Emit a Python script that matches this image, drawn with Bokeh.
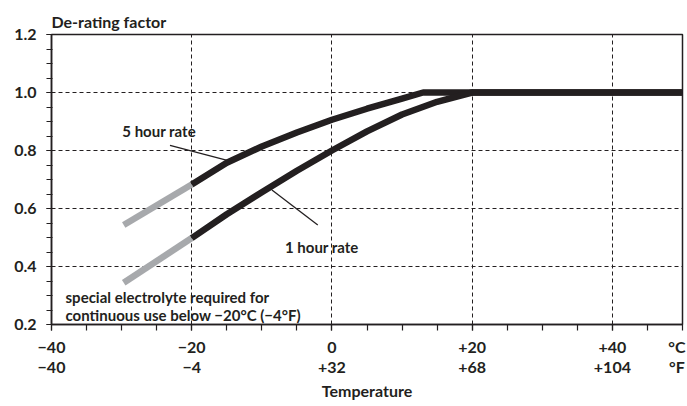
from bokeh.plotting import figure
from bokeh.models import LinearAxis, FixedTicker, Label, Range1d, PrintfTickFormatter
from bokeh.core.properties import value
from bokeh.embed import file_html
from bokeh.resources import INLINE

# ---- data ----
temp_ticks_c = [-40, -20, 0, 20, 40]
labels_c = ["\u221240", "\u221220", "0", "+20", "+40"]
labels_f = ["\u221240", "\u22124", "+32", "+68", "+104"]
unit_pos = 49.2
unit_c = "\u00b0C"
unit_f = "\u00b0F"

# 5 hour rate (black part, from -20 C)
t5 = [-20, -15, -10, -5, 0, 5, 10, 13, 20, 30, 40, 50]
v5 = [0.683, 0.758, 0.814, 0.862, 0.906, 0.944, 0.979, 1.0, 1.0, 1.0, 1.0, 1.0]
# 5 hour rate, special electrolyte region (grey)
t5_low = [-29.7, -20]
v5_low = [0.543, 0.683]

# 1 hour rate
t1 = [-20, -15, -10, -5, 0, 5, 10, 15, 20, 30, 40, 50]
v1 = [0.498, 0.58, 0.656, 0.73, 0.80, 0.866, 0.924, 0.968, 1.0, 1.0, 1.0, 1.0]
t1_low = [-29.7, -20]
v1_low = [0.344, 0.498]

FONT = "Lato"
BLACK = "#231f20"
GREY = "#a7a9ac"

p = figure(width=687, height=406, x_range=Range1d(-40, 50), y_range=Range1d(0.2, 1.2),
           output_backend="svg", toolbar_location=None,
           min_border_left=51, min_border_right=5, min_border_top=34, min_border_bottom=82)
p.background_fill_color = "white"
p.border_fill_color = "white"
p.outline_line_color = BLACK
p.outline_line_width = 1.5

p.title.text = "De-rating factor"
p.title.align = "left"
p.title.offset = 0
p.title.standoff = 8
p.title.text_font = FONT
p.title.text_font_size = "16px"
p.title.text_font_style = "bold"
p.title.text_color = BLACK

# x axis: line and ticks only
xa = p.xaxis[0]
xa.ticker = FixedTicker(ticks=temp_ticks_c, minor_ticks=list(range(-40, 51, 5)))
xa.major_label_overrides = {t: " " for t in temp_ticks_c}
xa.major_label_text_font_size = "1px"
xa.major_label_standoff = 0
xa.axis_line_color = BLACK
xa.axis_line_width = 1.5
xa.major_tick_line_color = BLACK
xa.minor_tick_line_color = BLACK
xa.major_tick_line_width = 1.2
xa.minor_tick_line_width = 1.2
xa.major_tick_in = 0
xa.major_tick_out = 6
xa.minor_tick_in = 0
xa.minor_tick_out = 6


def label_axis(labels, unit, standoff):
    ax = LinearAxis(ticker=FixedTicker(ticks=temp_ticks_c + [unit_pos], minor_ticks=[]))
    ov = {t: l for t, l in zip(temp_ticks_c, labels)}
    ov[unit_pos] = unit
    ax.major_label_overrides = ov
    ax.axis_line_color = None
    ax.major_tick_line_color = None
    ax.minor_tick_line_color = None
    ax.major_tick_in = 0
    ax.major_tick_out = 0
    ax.major_label_standoff = standoff
    ax.major_label_text_font = FONT
    ax.major_label_text_font_size = "16px"
    ax.major_label_text_font_style = "bold"
    ax.major_label_text_color = BLACK
    return ax


xc = label_axis(labels_c, unit_c, 2)
p.add_layout(xc, "below")
xf = label_axis(labels_f, unit_f, -2)
xf.axis_label = "Temperature"
xf.axis_label_standoff = 2
xf.axis_label_text_font = FONT
xf.axis_label_text_font_size = "16px"
xf.axis_label_text_font_style = "bold"
xf.axis_label_text_color = BLACK
p.add_layout(xf, "below")

# y axis
ya = p.yaxis[0]
ya.ticker = FixedTicker(ticks=[0.2, 0.4, 0.6, 0.8, 1.0, 1.2],
                        minor_ticks=[round(0.2 + 0.05 * i, 2) for i in range(21)])
ya.formatter = PrintfTickFormatter(format="%.1f")
ya.axis_line_color = BLACK
ya.axis_line_width = 1.5
ya.major_tick_line_color = BLACK
ya.minor_tick_line_color = BLACK
ya.major_tick_line_width = 1.2
ya.minor_tick_line_width = 1.2
ya.major_tick_in = 1
ya.major_tick_out = 5
ya.minor_tick_in = 1
ya.minor_tick_out = 5
ya.major_label_standoff = 10
ya.major_label_text_font = FONT
ya.major_label_text_font_size = "16px"
ya.major_label_text_font_style = "bold"
ya.major_label_text_color = BLACK

# grids
for g in (p.xgrid[0], p.ygrid[0]):
    g.grid_line_color = BLACK
    g.grid_line_width = 1
    g.grid_line_dash = "4 3"

# curves
p.line(t5_low, v5_low, line_color=GREY, line_width=6.5)
p.line(t1_low, v1_low, line_color=GREY, line_width=6.5)
p.line(t5, v5, line_color=BLACK, line_width=6.5, line_join="round")
p.line(t1, v1, line_color=BLACK, line_width=6.5, line_join="round")

# leader lines
p.segment(x0=[-23.1, -8.56], y0=[0.818, 0.664], x1=[-14.25, -2.02], y1=[0.762, 0.543],
          line_color=BLACK, line_width=1.3)


def add_label(x, y, text, size="15px"):
    p.add_layout(Label(x=x, y=y, text=text, text_font=FONT, text_font_size=size,
                       text_font_style="bold", text_color=BLACK, text_align="left",
                       text_baseline="middle"))


add_label(-29.9, 0.867, "5 hour rate")
add_label(-6.7, 0.466, "1 hour rate")
add_label(-38.0, 0.295, "special electrolyte required for")
add_label(-38.0, 0.232, "continuous use below \u221220\u00b0C (\u22124\u00b0F)")

open("out.html", "w").write(file_html(p, INLINE))
